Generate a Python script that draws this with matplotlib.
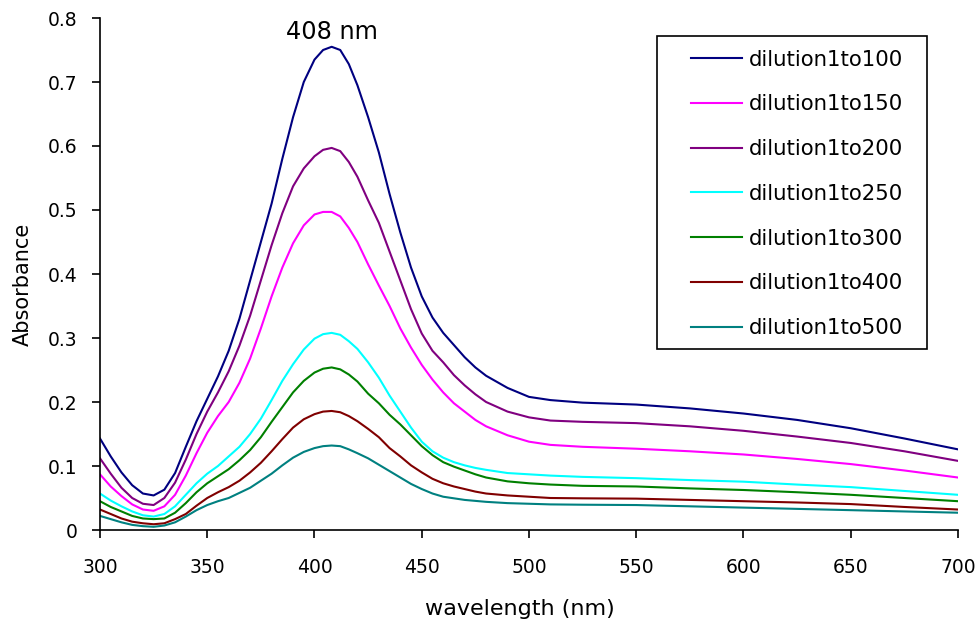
import matplotlib
matplotlib.use('Agg')
import matplotlib.pyplot as plt
from matplotlib.patches import Rectangle
from matplotlib.ticker import MultipleLocator, FuncFormatter

# wavelength grid (nm)
wavelength = [300, 305, 310, 315, 320, 325, 330, 335, 340, 345,
              350, 355, 360, 365, 370, 375, 380, 385, 390, 395,
              400, 404, 408, 412, 416, 420, 425, 430, 435, 440,
              445, 450, 455, 460, 465, 470, 475, 480, 490, 500,
              510, 525, 550, 575, 600, 625, 650, 675, 700]

dil_100 = [0.143, 0.115, 0.090, 0.070, 0.057, 0.054, 0.063, 0.089, 0.130, 0.170,
           0.205, 0.240, 0.280, 0.330, 0.390, 0.450, 0.510, 0.580, 0.645, 0.700,
           0.735, 0.750, 0.755, 0.750, 0.728, 0.695, 0.645, 0.590, 0.525, 0.465,
           0.410, 0.365, 0.332, 0.308, 0.289, 0.270, 0.254, 0.241, 0.222, 0.208,
           0.203, 0.199, 0.196, 0.190, 0.182, 0.172, 0.159, 0.143, 0.126]

dil_150 = [0.087, 0.068, 0.053, 0.040, 0.032, 0.030, 0.037, 0.055, 0.085, 0.120,
           0.152, 0.178, 0.200, 0.230, 0.268, 0.315, 0.365, 0.410, 0.448, 0.476,
           0.493, 0.497, 0.497, 0.490, 0.472, 0.450, 0.415, 0.382, 0.350, 0.315,
           0.285, 0.258, 0.235, 0.215, 0.198, 0.185, 0.172, 0.162, 0.148, 0.138,
           0.133, 0.130, 0.127, 0.123, 0.118, 0.111, 0.103, 0.093, 0.082]

dil_200 = [0.112, 0.088, 0.066, 0.050, 0.041, 0.039, 0.050, 0.074, 0.110, 0.150,
           0.185, 0.215, 0.248, 0.288, 0.335, 0.390, 0.445, 0.495, 0.537, 0.565,
           0.584, 0.594, 0.597, 0.592, 0.575, 0.552, 0.515, 0.480, 0.435, 0.390,
           0.345, 0.307, 0.280, 0.262, 0.242, 0.226, 0.212, 0.200, 0.185, 0.176,
           0.171, 0.169, 0.167, 0.162, 0.155, 0.146, 0.136, 0.123, 0.108]

dil_250 = [0.057, 0.046, 0.037, 0.029, 0.023, 0.021, 0.025, 0.037, 0.055, 0.073,
           0.088, 0.100, 0.115, 0.130, 0.150, 0.174, 0.203, 0.233, 0.259, 0.282,
           0.299, 0.306, 0.308, 0.305, 0.295, 0.283, 0.262, 0.238, 0.210, 0.185,
           0.160, 0.138, 0.123, 0.113, 0.106, 0.101, 0.097, 0.094, 0.089, 0.087,
           0.085, 0.083, 0.081, 0.078, 0.0755, 0.071, 0.067, 0.061, 0.055]

dil_300 = [0.045, 0.036, 0.029, 0.022, 0.018, 0.017, 0.018, 0.027, 0.042, 0.059,
           0.073, 0.084, 0.095, 0.109, 0.125, 0.145, 0.169, 0.192, 0.215, 0.233,
           0.246, 0.252, 0.254, 0.251, 0.243, 0.232, 0.213, 0.198, 0.180, 0.165,
           0.148, 0.131, 0.117, 0.106, 0.099, 0.093, 0.087, 0.082, 0.076, 0.073,
           0.071, 0.069, 0.068, 0.065, 0.0625, 0.059, 0.055, 0.050, 0.045]

dil_400 = [0.032, 0.025, 0.018, 0.013, 0.0105, 0.009, 0.0105, 0.017, 0.025, 0.038,
           0.050, 0.059, 0.067, 0.077, 0.090, 0.105, 0.123, 0.142, 0.160, 0.173,
           0.181, 0.185, 0.186, 0.184, 0.178, 0.170, 0.158, 0.145, 0.128, 0.115,
           0.101, 0.090, 0.080, 0.073, 0.068, 0.064, 0.060, 0.057, 0.054, 0.052,
           0.050, 0.0495, 0.049, 0.047, 0.045, 0.043, 0.0405, 0.036, 0.032]

dil_500 = [0.022, 0.017, 0.012, 0.008, 0.006, 0.005, 0.007, 0.012, 0.021, 0.031,
           0.039, 0.045, 0.050, 0.058, 0.066, 0.077, 0.088, 0.101, 0.113, 0.122,
           0.128, 0.131, 0.132, 0.131, 0.126, 0.120, 0.112, 0.102, 0.092, 0.082,
           0.072, 0.064, 0.057, 0.052, 0.0495, 0.047, 0.0455, 0.044, 0.042, 0.041,
           0.040, 0.0395, 0.039, 0.037, 0.035, 0.033, 0.031, 0.029, 0.027]

series = [
    ('dilution1to100', dil_100, '#000080'),
    ('dilution1to150', dil_150, '#FF00FF'),
    ('dilution1to200', dil_200, '#800080'),
    ('dilution1to250', dil_250, '#00FFFF'),
    ('dilution1to300', dil_300, '#008000'),
    ('dilution1to400', dil_400, '#800000'),
    ('dilution1to500', dil_500, '#008080'),
]

peak_nm = 408
peak_label_y = 0.767

W, H = 978, 620
fig = plt.figure(figsize=(W / 100, H / 100), dpi=100)
ax = fig.add_axes([100 / W, 1 - 530 / H, 858 / W, 512 / H])

for name, vals, col in series:
    ax.plot(wavelength, vals, color=col, lw=1.5, label=name,
            solid_joinstyle='round')

ax.set_xlim(300, 700)
ax.set_ylim(0, 0.8)
ax.xaxis.set_major_locator(MultipleLocator(50))
ax.yaxis.set_major_locator(MultipleLocator(0.1))
ax.yaxis.set_major_formatter(FuncFormatter(lambda v, p: f'{v:g}'))

for s in ['top', 'right']:
    ax.spines[s].set_visible(False)
for s in ['left', 'bottom']:
    ax.spines[s].set_linewidth(1.2)
ax.tick_params(direction='out', length=6, width=1.2, labelsize=13.5)
ax.tick_params(axis='x', pad=14)
ax.tick_params(axis='y', pad=10)

ax.set_xlabel('wavelength (nm)', fontsize=16)
ax.xaxis.set_label_coords(0.4895, -0.135)
ax.set_ylabel('Absorbance', fontsize=15)
ax.yaxis.set_label_coords(-0.078, 0.479)

ax.text(peak_nm, peak_label_y, '408 nm', ha='center', va='baseline', fontsize=17.3)

# legend without its own frame; box drawn separately
leg = ax.legend(loc='upper left', bbox_to_anchor=(680 / W, 1 - 39 / H),
                bbox_transform=fig.transFigure, frameon=False, borderpad=0,
                fontsize=15.3, handlelength=2.4, handletextpad=0.33,
                labelspacing=1.165)
fig.patches.append(Rectangle((657 / W, 1 - 349 / H), 270 / W, 313 / H,
                             transform=fig.transFigure, fill=False,
                             edgecolor='black', lw=1.2))

fig.savefig('out.png', dpi=100)
